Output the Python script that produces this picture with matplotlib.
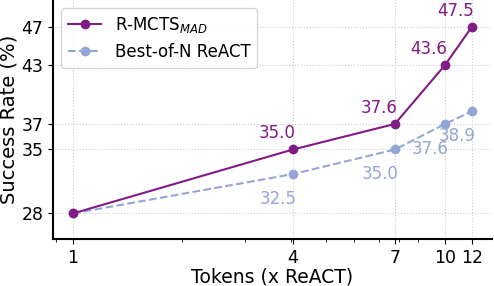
import numpy as np
import matplotlib
matplotlib.use("Agg")
import matplotlib.pyplot as plt
from matplotlib.ticker import FixedLocator, FuncFormatter

# token multipliers (x ReACT) and success rates (%)
tokens_mcts = [1.0, 4.06, 7.77, 10.7, 12.7]
rate_mcts = [28.5, 35.0, 37.6, 43.6, 47.5]
tokens_bon = [1.0, 4.06, 7.77, 10.7, 12.7]
rate_bon = [28.5, 32.5, 35.0, 37.6, 38.9]

xticks = [1.0, 4.06, 7.77, 10.7, 12.7]
yticks = [28.5, 35.0, 37.6, 43.6, 47.5]

c_mcts = '#811b85'
c_bon = '#94a6d6'

fig = plt.figure(figsize=(4.94, 2.86), dpi=100)
ax = fig.add_axes([53 / 494, 47 / 286, 439 / 494, 239 / 286])

ax.plot(tokens_mcts, rate_mcts, '-o', color=c_mcts, lw=1.5, ms=6,
        label=r'R-MCTS$_{MAD}$', zorder=3)
ax.plot(tokens_bon, rate_bon, '--o', color=c_bon, lw=1.5, ms=6,
        label='Best-of-N ReACT', zorder=2)

for x, y in zip(tokens_mcts[1:], rate_mcts[1:]):
    ax.annotate('%.1f' % y, (x, y), xytext=(-16, 16), textcoords='offset pixels',
                ha='center', va='center', fontsize=12, color=c_mcts)
for x, y in zip(tokens_bon[1:], rate_bon[1:]):
    ax.annotate('%.1f' % y, (x, y), xytext=(-15, -25), textcoords='offset pixels',
                ha='center', va='center', fontsize=12, color=c_bon)

ax.set_xscale('log')
ax.xaxis.set_major_locator(FixedLocator(xticks))
ax.xaxis.set_major_formatter(FuncFormatter(lambda v, p: '%d' % int(v + 1e-9)))
ax.xaxis.set_minor_formatter(FuncFormatter(lambda v, p: ''))
ax.set_yticks(yticks)
ax.yaxis.set_major_formatter(FuncFormatter(lambda v, p: '%d' % int(v + 1e-9)))
ax.set_ylim(25.9, 50.2)

ax.tick_params(axis='both', which='major', labelsize=12.5)
ax.set_xlabel('Tokens (x ReACT)', fontsize=13.5, labelpad=0.5)
ax.set_ylabel('Success Rate (%)', fontsize=14, labelpad=2)

ax.grid(True, which='major', linestyle=':', color='#cccccc', lw=0.8)
ax.spines['top'].set_visible(False)
ax.spines['right'].set_visible(False)
for s in ['left', 'bottom']:
    ax.spines[s].set_linewidth(1.5)

ax.legend(loc='upper left', fontsize=12)

fig.savefig('out.png', dpi=100)
